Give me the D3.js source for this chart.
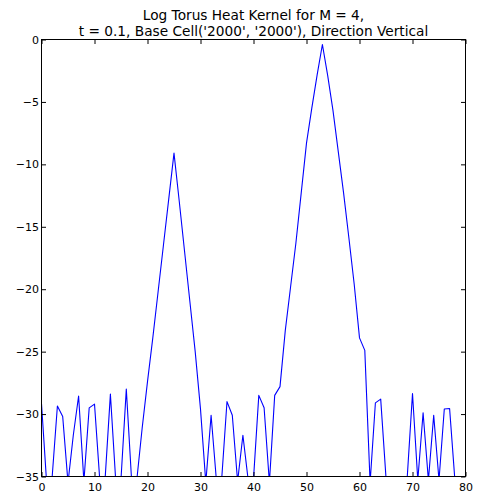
<!DOCTYPE html>
<html>
<head>
<meta charset="utf-8">
<script src="https://cdn.jsdelivr.net/npm/d3@7/dist/d3.min.js"></script>
<style>
  html, body { margin: 0; padding: 0; background: #fff; }
  svg { display: block; }
  text { font-family: "DejaVu Sans", sans-serif; fill: #000; }
</style>
</head>
<body>
<svg id="chart" width="479" height="500"></svg>
<script>
// ---- data ----
const titleLines = ["Log Torus Heat Kernel for M = 4,", "t = 0.1, Base Cell('2000', '2000'), Direction Vertical"];
const xIndex = d3.range(0, 80);
const logKernel = [
  -29.15, -35.7, -35.1, -29.35, -30.2, -35.5, -31.7, -28.55, -35.4, -29.5,
  -29.2, -35.3, -35.2, -28.4, -35.3, -35.2, -28.0, -35.3, -35.2, -31.1,
  -27.4, -23.9, -20.2, -16.5, -12.8, -9.1, -13.0, -17.0, -21.0, -25.0,
  -29.6, -35.5, -30.1, -35.3, -35.2, -29.0, -30.1, -35.4, -31.7, -35.3,
  -35.2, -28.5, -29.5, -35.5, -28.5, -27.8, -23.3, -19.8, -16.3, -12.3,
  -8.3, -5.5, -2.85, -0.4, -2.9, -5.7, -9.0, -12.3, -15.9, -19.6,
  -23.9, -24.9, -35.5, -29.1, -28.8, -35.1, -37.0, -37.0, -36.5, -35.1,
  -28.35, -35.3, -29.9, -35.3, -30.1, -35.3, -29.6, -29.55, -35.3, -36.0
];
const xTicks = [0, 10, 20, 30, 40, 50, 60, 70, 80];
const yTicks = [0, -5, -10, -15, -20, -25, -30, -35];

// ---- layout ----
const L = 41.5, R = 465.5, T = 39.5, B = 476.5;
const svg = d3.select("#chart");

const x = d3.scaleLinear().domain([0, 80]).range([L, R]);
const y = d3.scaleLinear().domain([-35, 0]).range([B, T]);

svg.append("defs").append("clipPath").attr("id", "clip")
  .append("rect").attr("x", L).attr("y", T).attr("width", R - L).attr("height", B - T);

// line
const line = d3.line().x((d, i) => x(xIndex[i])).y(d => y(d));
svg.append("path")
  .datum(logKernel)
  .attr("clip-path", "url(#clip)")
  .attr("fill", "none")
  .attr("stroke", "#0000ff")
  .attr("stroke-width", 1.1)
  .attr("stroke-linejoin", "round")
  .attr("d", line);

// frame
svg.append("rect").attr("x", L).attr("y", T).attr("width", R - L).attr("height", B - T)
  .attr("fill", "none").attr("stroke", "#000").attr("stroke-width", 1);

const tickLen = 4.5;
const fmt = d => String(d).replace("-", "\u2212");

// bottom axis (inward ticks)
const xb = d3.axisBottom(x).tickValues(xTicks).tickSize(-tickLen).tickPadding(7).tickFormat(fmt);
const gxb = svg.append("g").attr("transform", `translate(0,${B})`).call(xb);
// top axis ticks, no labels
const xt = d3.axisTop(x).tickValues(xTicks).tickSize(-tickLen).tickFormat("");
const gxt = svg.append("g").attr("transform", `translate(0,${T})`).call(xt);
// left axis
const yl = d3.axisLeft(y).tickValues(yTicks).tickSize(-tickLen).tickPadding(2.5).tickFormat(fmt);
const gyl = svg.append("g").attr("transform", `translate(${L},0)`).call(yl);
// right axis ticks
const yr = d3.axisRight(y).tickValues(yTicks).tickSize(-tickLen).tickFormat("");
const gyr = svg.append("g").attr("transform", `translate(${R},0)`).call(yr);

[gxb, gxt, gyl, gyr].forEach(g => {
  g.select(".domain").remove();
  g.selectAll(".tick line").attr("stroke", "#000").attr("stroke-width", 1);
  g.selectAll("text").style("font-family", "DejaVu Sans").style("font-size", "11px").attr("fill", "#000");
});

// title
const title = svg.append("text")
  .attr("x", (L + R) / 2)
  .attr("text-anchor", "middle")
  .style("font-size", "13.7px");
title.selectAll("tspan").data(titleLines).join("tspan")
  .attr("x", (L + R) / 2)
  .attr("y", (d, i) => 20 + i * 15.5)
  .text(d => d);
</script>
</body>
</html>
